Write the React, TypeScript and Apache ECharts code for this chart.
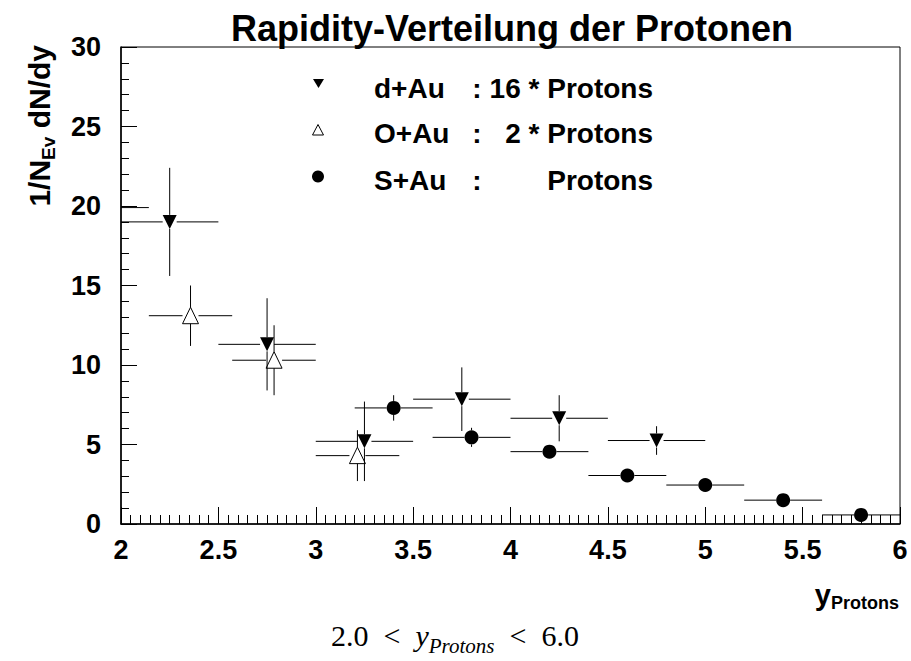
import React, { useEffect, useRef } from "react";
import * as echarts from "echarts";

// ---------- data ----------
const xTickLabels = ["2", "2.5", "3", "3.5", "4", "4.5", "5", "5.5", "6"];
const yTickLabels = ["0", "5", "10", "15", "20", "25", "30"];

// d+Au : 16 * Protons (filled down triangles)
const dAuCenter = [2.25, 2.75, 3.25, 3.75, 4.25, 4.75];
const dAuBinLow = [2.0, 2.5, 3.0, 3.5, 4.0, 4.5];
const dAuBinHigh = [2.5, 3.0, 3.5, 4.0, 4.5, 5.0];
const dAuValue = [19.0, 11.3, 5.2, 7.85, 6.65, 5.25];
const dAuError = [3.4, 2.9, 2.5, 2.0, 1.45, 0.9];

// O+Au : 2 * Protons (open up triangles)
const oAuCenter = [1.929, 2.357, 2.786, 3.214];
const oAuBinLow = [1.714, 2.143, 2.571, 3.0];
const oAuBinHigh = [2.143, 2.571, 3.0, 3.429];
const oAuValue = [19.9, 13.1, 10.3, 4.3];
const oAuError = [2.0, 1.9, 2.2, 1.6];

// S+Au : Protons (filled circles)
const sAuCenter = [3.4, 3.8, 4.2, 4.6, 5.0, 5.4, 5.8];
const sAuBinLow = [3.2, 3.6, 4.0, 4.4, 4.8, 5.2, 5.6];
const sAuBinHigh = [3.6, 4.0, 4.4, 4.8, 5.2, 5.6, 6.0];
const sAuValue = [7.3, 5.45, 4.55, 3.05, 2.45, 1.5, 0.57];
const sAuError = [0.8, 0.6, 0.4, 0.3, 0.25, 0.2, 0.1];

const titleText = "Rapidity-Verteilung der Protonen";
const legendNames = ["d+Au", "O+Au", "S+Au"];
const legendScales = ["16 * Protons", "2 * Protons", "Protons"];

const FONT = "'Liberation Sans', Arial, Helvetica, sans-serif";
const SERIF = "'Liberation Serif', 'Times New Roman', serif";

type Kind = "down" | "up" | "circle";

function build(c: number[], lo: number[], hi: number[], v: number[], e: number[]) {
  return c.map((x, i) => [x, v[i], lo[i], hi[i], e[i]]);
}

function makeRenderItem(kind: Kind) {
  return (params: any, api: any) => {
    const xc = api.value(0);
    const y = api.value(1);
    const xl = api.value(2);
    const xh = api.value(3);
    const e = api.value(4);
    const c = api.coord([xc, y]);
    const pl = api.coord([xl, y]);
    const ph = api.coord([xh, y]);
    const pt = api.coord([xc, y + e]);
    const pb = api.coord([xc, y - e]);
    const r = kind === "up" ? 8 : 7;
    const ls = { stroke: "#000", lineWidth: 1, fill: null };
    const children: any[] = [];
    if (c[0] - r > pl[0])
      children.push({ type: "line", shape: { x1: pl[0], y1: c[1], x2: c[0] - r, y2: c[1] }, style: ls });
    if (ph[0] > c[0] + r)
      children.push({ type: "line", shape: { x1: c[0] + r, y1: c[1], x2: ph[0], y2: c[1] }, style: ls });
    const rt = kind === "up" ? 8.5 : 7;
    if (c[1] - rt > pt[1])
      children.push({ type: "line", shape: { x1: c[0], y1: pt[1], x2: c[0], y2: c[1] - rt }, style: ls });
    if (pb[1] > c[1] + r)
      children.push({ type: "line", shape: { x1: c[0], y1: c[1] + r, x2: c[0], y2: pb[1] }, style: ls });
    const cx = c[0];
    const cy = c[1];
    if (kind === "down") {
      children.push({
        type: "polygon",
        shape: { points: [[cx - 7, cy - 7], [cx + 7, cy - 7], [cx, cy + 7]] },
        style: { fill: "#000" },
      });
    } else if (kind === "up") {
      children.push({
        type: "polygon",
        shape: { points: [[cx - 8, cy + 8], [cx + 8, cy + 8], [cx, cy - 8.5]] },
        style: { fill: "none", stroke: "#000", lineWidth: 1 },
      });
    } else {
      children.push({ type: "circle", shape: { cx, cy, r: 7 }, style: { fill: "#000" } });
    }
    return { type: "group", children };
  };
}

export default function App() {
  const ref = useRef<HTMLDivElement>(null);
  useEffect(() => {
    if (!ref.current) return;
    const chart = echarts.init(ref.current, undefined, { renderer: "svg" });

    const axisLabelBase = {
      color: "#000",
      fontSize: 27,
      fontWeight: "bold" as const,
      fontFamily: FONT,
    };

    const legendRowsY = [88, 133, 180];
    const legendGraphics: any[] = [];
    legendRowsY.forEach((ly, i) => {
      const txt = { fill: "#000", fontSize: 28, fontWeight: "bold", fontFamily: FONT };
      legendGraphics.push({
        type: "text", x: 374, y: ly,
        style: { ...txt, text: legendNames[i], align: "left", verticalAlign: "middle", textAlign: "left", textVerticalAlign: "middle" },
      });
      legendGraphics.push({
        type: "text", x: 477, y: ly,
        style: { ...txt, text: ":", align: "center", verticalAlign: "middle", textAlign: "center", textVerticalAlign: "middle" },
      });
      legendGraphics.push({
        type: "text", x: 653, y: ly,
        style: { ...txt, text: legendScales[i], align: "right", verticalAlign: "middle", textAlign: "right", textVerticalAlign: "middle" },
      });
    });
    legendGraphics.push({
      type: "polygon",
      shape: { points: [[313, 79], [324, 79], [318.5, 88]] },
      style: { fill: "#000" },
    });
    legendGraphics.push({
      type: "polygon",
      shape: { points: [[312.5, 135], [323.5, 135], [318, 124.5]] },
      style: { fill: "none", stroke: "#000", lineWidth: 1 },
    });
    legendGraphics.push({ type: "circle", shape: { cx: 318, cy: 176.5, r: 6 }, style: { fill: "#000" } });

    const sp = "\u2002";

    const option: any = {
      animation: false,
      backgroundColor: "#fff",
      grid: {
        left: 121,
        top: 47,
        width: 779,
        height: 477,
        show: true,
        borderColor: "#000",
        borderWidth: 1,
        backgroundColor: "transparent",
      },
      xAxis: {
        type: "value",
        min: 2,
        max: 6,
        interval: 0.5,
        axisLine: { show: true, onZero: false, lineStyle: { color: "#000", width: 1.5 } },
        axisTick: { show: true, inside: true, length: 17, lineStyle: { color: "#000", width: 1 } },
        minorTick: { show: true, splitNumber: 10, length: 9, lineStyle: { color: "#000", width: 1 } },
        splitLine: { show: false },
        minorSplitLine: { show: false },
        axisLabel: {
          ...axisLabelBase,
          margin: 12,
          showMinLabel: true,
          showMaxLabel: true,
          formatter: (v: number) => xTickLabels[Math.round((v - 2) / 0.5)] ?? "",
        },
      },
      yAxis: {
        type: "value",
        min: 0,
        max: 30,
        interval: 5,
        axisLine: { show: true, onZero: false, lineStyle: { color: "#000", width: 1.5 } },
        axisTick: { show: true, inside: true, length: 16, lineStyle: { color: "#000", width: 1 } },
        minorTick: { show: true, splitNumber: 5, length: 8, lineStyle: { color: "#000", width: 1 } },
        splitLine: { show: false },
        minorSplitLine: { show: false },
        axisLabel: {
          ...axisLabelBase,
          margin: 20,
          formatter: (v: number) => yTickLabels[Math.round(v / 5)] ?? "",
        },
      },
      series: [
        {
          type: "custom",
          name: "S+Au",
          clip: true,
          renderItem: makeRenderItem("circle"),
          encode: { x: 0, y: 1 },
          data: build(sAuCenter, sAuBinLow, sAuBinHigh, sAuValue, sAuError),
          z: 3,
        },
        {
          type: "custom",
          name: "O+Au",
          clip: true,
          renderItem: makeRenderItem("up"),
          encode: { x: 0, y: 1 },
          data: build(oAuCenter, oAuBinLow, oAuBinHigh, oAuValue, oAuError),
          z: 4,
        },
        {
          type: "custom",
          name: "d+Au",
          clip: true,
          renderItem: makeRenderItem("down"),
          encode: { x: 0, y: 1 },
          data: build(dAuCenter, dAuBinLow, dAuBinHigh, dAuValue, dAuError),
          z: 5,
        },
      ],
      graphic: [
        {
          type: "text",
          x: 512,
          y: 28,
          style: {
            text: titleText,
            fill: "#000",
            fontSize: 36,
            fontWeight: "bold",
            fontFamily: FONT,
            align: "center",
            verticalAlign: "middle",
            textAlign: "center",
            textVerticalAlign: "middle",
          },
        },
        {
          type: "text",
          x: 40,
          y: 45,
          rotation: Math.PI / 2,
          style: {
            text: "{a|1/N}{s|Ev}{a| dN/dy}",
            align: "right",
            verticalAlign: "middle",
            textAlign: "right",
            textVerticalAlign: "middle",
            rich: {
              a: { fontSize: 30, fontWeight: "bold", fontFamily: FONT, fill: "#000", lineHeight: 32, verticalAlign: "top" },
              s: { fontSize: 19, fontWeight: "bold", fontFamily: FONT, fill: "#000", lineHeight: 21, padding: [15, 0, 0, 0], verticalAlign: "top" },
            },
          },
        },
        {
          type: "text",
          x: 899,
          y: 595,
          style: {
            text: "{a|y}{s|Protons}",
            align: "right",
            verticalAlign: "middle",
            textAlign: "right",
            textVerticalAlign: "middle",
            rich: {
              a: { fontSize: 29, fontWeight: "bold", fontFamily: FONT, fill: "#000", lineHeight: 30, verticalAlign: "top" },
              s: { fontSize: 18, fontWeight: "bold", fontFamily: FONT, fill: "#000", lineHeight: 20, padding: [14, 0, 0, 0], verticalAlign: "top" },
            },
          },
        },
        {
          type: "text",
          x: 455,
          y: 636,
          style: {
            text: `{n|2.0${sp}<${sp}}{i|y}{s|Protons}{n|${sp}<${sp}6.0}`,
            align: "center",
            verticalAlign: "middle",
            textAlign: "center",
            textVerticalAlign: "middle",
            rich: {
              n: { fontSize: 30, fontFamily: SERIF, fill: "#000", lineHeight: 32, verticalAlign: "top" },
              i: { fontSize: 30, fontStyle: "italic", fontFamily: SERIF, fill: "#000", lineHeight: 32, verticalAlign: "top" },
              s: { fontSize: 21, fontStyle: "italic", fontFamily: SERIF, fill: "#000", lineHeight: 22, padding: [15, 0, 0, 0], verticalAlign: "top" },
            },
          },
        },
        ...legendGraphics,
      ],
    };
    chart.setOption(option);
    return () => chart.dispose();
  }, []);
  return (
    <div
      ref={ref}
      style={{ position: "fixed", left: 0, top: 0, width: 911, height: 661, background: "#fff" }}
    />
  );
}
